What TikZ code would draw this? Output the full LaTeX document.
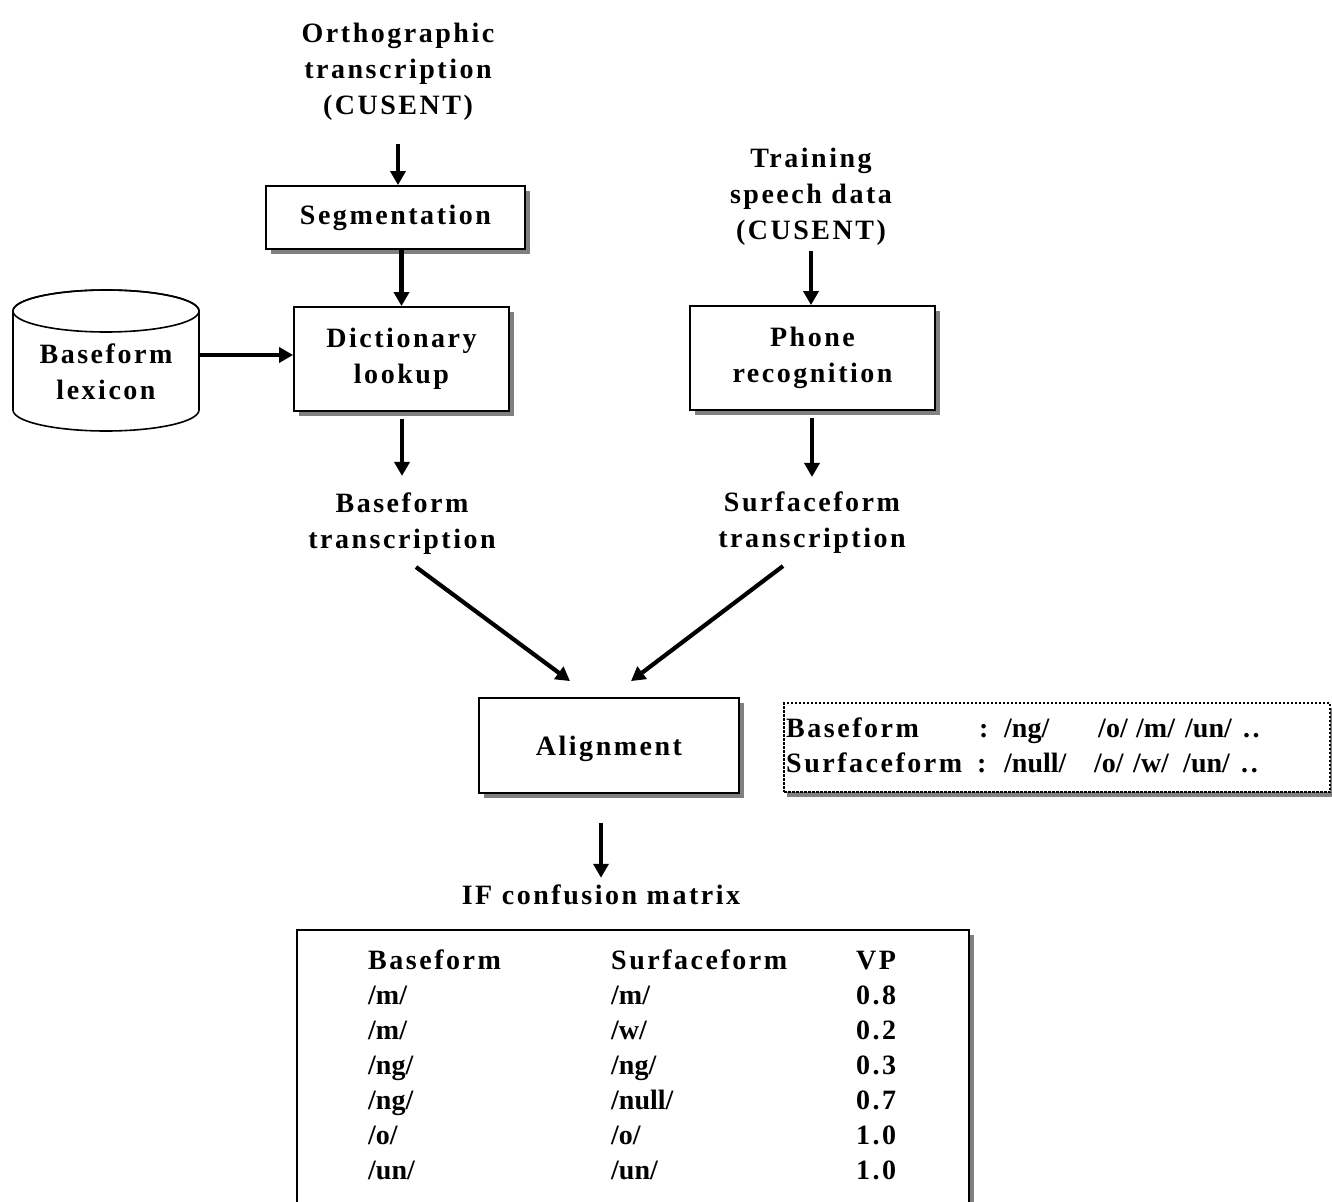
\documentclass[tikz,border=0pt]{standalone}
\usepackage{fontspec}
\setmainfont{Liberation Serif}[LetterSpace=9]
\newfontfamily\phon{Liberation Serif}
\newcommand{\ph}[1]{{\phon\bfseries #1}}
\usetikzlibrary{arrows.meta,shadows}
\begin{document}
\begin{tikzpicture}[x=1pt,y=-1pt,
  every node/.style={font=\fontsize{28}{36}\selectfont\bfseries, inner sep=0pt},
  lbl/.style={align=center},
  box/.style={draw, line width=1.8pt, fill=white, align=center,
    drop shadow={shadow xshift=5pt, shadow yshift=-5pt, fill=black!50, opacity=1}},
  arr/.style={line width=4.2pt, -{Triangle[length=14pt,width=15pt]}},
]
\useasboundingbox (0,0) rectangle (1332,1201);
\clip (0,0) rectangle (1332,1201);

% ---- left branch: orthographic transcription ----
\node[lbl] (ortho) at (398,72) {Orthographic\\transcription\\(CUSENT)};
\node[box, minimum width=259pt, minimum height=63pt] (seg) at (395.5,217.5) {Segmentation};
\node[box, minimum width=215pt, minimum height=104pt] (dict) at (401.5,359) {Dictionary\\lookup};
\node[lbl] (btrans) at (402,524) {Baseform\\transcription};

% ---- baseform lexicon (cylinder) ----
\node[minimum width=186pt, minimum height=140pt] (lex) at (106,360) {};
\draw[line width=1.6pt, fill=white]
  (13,311) -- (13,410) arc[start angle=180, end angle=0, x radius=93, y radius=21]
  -- (199,311) arc[start angle=0, end angle=-180, x radius=93, y radius=21] -- cycle;
\draw[line width=1.6pt] (106,311) ellipse[x radius=93, y radius=21];
\node[lbl] at (106,372) {Baseform\\lexicon};

% ---- right branch: speech data ----
\node[lbl] (train) at (811,197) {Training\\speech data\\(CUSENT)};
\node[box, minimum width=245pt, minimum height=104pt] (phone) at (812.5,358) {Phone\\recognition};
\node[lbl] (strans) at (812,523) {Surfaceform\\transcription};

% ---- alignment ----
\node[box, minimum width=260pt, minimum height=95pt] (align) at (609,745.5) {};
\node at (609,748.5) {Alignment};

% example of an aligned pair
\node[draw, line width=1.2pt, dash pattern=on 2.5pt off 1.5pt, fill=white,
  minimum width=546pt, minimum height=89pt,
  drop shadow={shadow xshift=3pt, shadow yshift=-5pt, fill=black!50, opacity=1}]
  (ex) at (1057,747.5) {};
\node[anchor=west, align=left, font=\fontsize{28}{35}\selectfont\bfseries] (extext) at (786,745)
  {\makebox[193pt][l]{Baseform}\makebox[25pt][l]{:}\makebox[94pt][l]{\ph{/ng/}}\makebox[38pt][l]{\ph{/o/}}\makebox[49pt][l]{\ph{/m/}}\makebox[58pt][l]{\ph{/un/}}..\\
   \makebox[191pt][l]{Surfaceform}\makebox[27pt][l]{:}\makebox[90pt][l]{\ph{/null/}}\makebox[39pt][l]{\ph{/o/}}\makebox[50pt][l]{\ph{/w/}}\makebox[58pt][l]{\ph{/un/}}..};

% ---- confusion matrix ----
\node[lbl] (ifcm) at (601,895) {IF confusion matrix};
\node[box, minimum width=672pt, minimum height=290pt, anchor=north west] (tab) at (296,929) {};
\node[anchor=north west, font=\fontsize{28}{35}\selectfont\bfseries] (tabtext) at (368,944.5)
  {\begin{tabular}{@{}p{243pt}@{}p{245pt}@{}l@{}}
   Baseform & Surfaceform & VP\\
   \ph{/m/}  & \ph{/m/}    & 0.8\\
   \ph{/m/}  & \ph{/w/}    & 0.2\\
   \ph{/ng/} & \ph{/ng/}   & 0.3\\
   \ph{/ng/} & \ph{/null/} & 0.7\\
   \ph{/o/}  & \ph{/o/}    & 1.0\\
   \ph{/un/} & \ph{/un/}   & 1.0
   \end{tabular}};

% ---- connectors ----
\draw[arr, shorten <=23pt] (ortho.south) -- (ortho.south |- seg.north);
\draw[arr] (seg.south -| dict.north) -- (dict.north);
\draw[arr] ([yshift=5pt]lex.east) -- ([yshift=5pt]lex.east -| dict.west);
\draw[arr, shorten <=7pt] (dict.south -| btrans.north) -- ([yshift=17pt]btrans.north);
\draw[arr] (phone.north -| train.south) ++(0,-54) -- (phone.north -| train.south);
\draw[arr, shorten <=7pt] (phone.south -| strans.north) -- ([yshift=15pt]strans.north);
\draw[arr] ([xshift=14pt,yshift=-12pt]btrans.south) -- ([xshift=-39pt,yshift=16pt]align.north);
\draw[arr] ([xshift=-29pt,yshift=-12pt]strans.south) -- ([xshift=22pt,yshift=16pt]align.north);
\draw[arr, shorten <=29pt] (align.south -| ifcm.north) -- ([yshift=7pt]ifcm.north);
\end{tikzpicture}
\end{document}
